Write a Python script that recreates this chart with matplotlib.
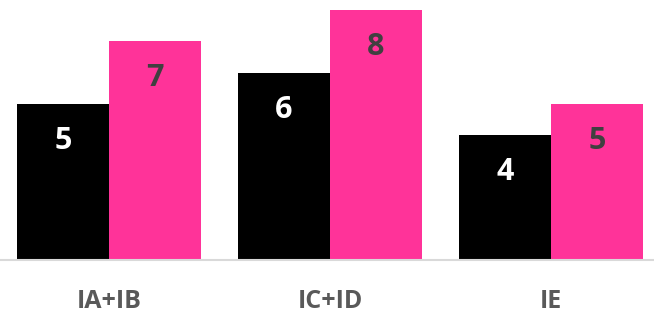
import matplotlib
matplotlib.use("Agg")
import matplotlib.pyplot as plt
import numpy as np

categories = ["IA+IB", "IC+ID", "IE"]
series_black = [5, 6, 4]
series_pink = [7, 8, 5]

BLACK = "#000000"
PINK = "#FF3399"
LABEL_GRAY = "#595959"
DARK_TEXT = "#404040"

plt.rcParams["font.family"] = ["Open Sans", "DejaVu Sans"]

fig = plt.figure(figsize=(6.54, 3.14), dpi=100)
ax = fig.add_axes([0, 54 / 314, 1, 250 / 314])

x = np.arange(len(categories))
width = 92 / 221
bars_black = ax.bar(x - width / 2, series_black, width, color=BLACK)
bars_pink = ax.bar(x + width / 2, series_pink, width, color=PINK)

# value labels sit a fixed distance below the top of each bar
for bars, values, color in [(bars_black, series_black, "white"), (bars_pink, series_pink, DARK_TEXT)]:
    for bar, v in zip(bars, values):
        ax.annotate(str(v), (bar.get_x() + bar.get_width() / 2, v),
                    xytext=(0, -37 * 0.72), textcoords="offset points",
                    ha="center", va="center", fontsize=22, fontweight="bold", color=color)

ax.set_xlim(-109 / 221, 545 / 221)
ax.set_ylim(0, 8)
for side in ["top", "right", "left"]:
    ax.spines[side].set_visible(False)
ax.spines["bottom"].set_color("#D9D9D9")
ax.spines["bottom"].set_linewidth(1.5)
ax.set_yticks([])
ax.set_xticks(x)
ax.set_xticklabels(categories, fontsize=18, fontweight="bold", color=LABEL_GRAY)
ax.tick_params(axis="x", length=0, pad=21)

fig.savefig("out.png", dpi=100)
